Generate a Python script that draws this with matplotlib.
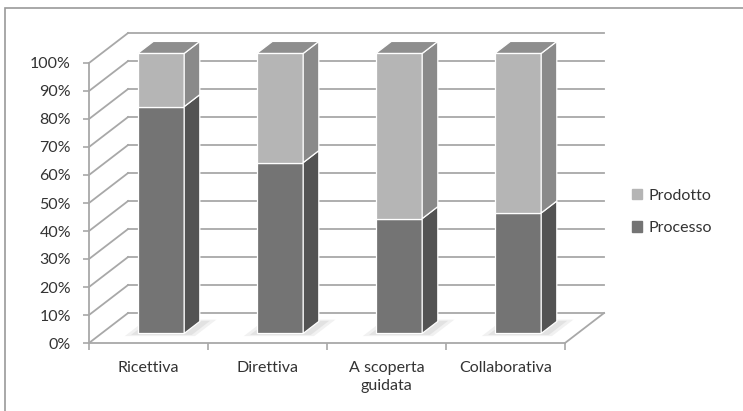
import matplotlib
matplotlib.use("Agg")
import matplotlib.pyplot as plt
from matplotlib.patches import Polygon, Patch, Rectangle
import numpy as np

plt.rcParams['font.family'] = ['Lato', 'DejaVu Sans']

categories = ["Ricettiva", "Direttiva", "A scoperta\nguidata", "Collaborativa"]
processo = [81, 61, 41, 43]
prodotto = [19, 39, 59, 57]
yticks = [0, 10, 20, 30, 40, 50, 60, 70, 80, 90, 100]
ytick_labels = [f"{v}%" for v in yticks]

# colours
c_proc_front, c_proc_side = "#747474", "#535353"
c_prod_front, c_prod_side, c_prod_top = "#b5b5b5", "#8a8a8a", "#8e8e8e"
grid_c = "#a8a8a8"
text_c = "#333333"
FS = 11.5

W, H = 743, 411
fig = plt.figure(figsize=(W / 100, H / 100), dpi=100)
ax = fig.add_axes([89 / W, 68 / H, 476 / W, 280 / H])
n = len(categories)
ax.set_xlim(0, n)
ax.set_ylim(0, 100)

DX, DY = 0.328, 10.7      # depth projection (category units, percent units)
F0, F1 = 0.32, 0.72       # bar front/back depth fraction
BW = 0.39                 # bar width


def P(x, y, z):
    return (x + z * DX, y + z * DY)


# walls gridlines
for v in yticks:
    ax.plot(*zip(P(0, v, 0), P(0, v, 1)), color=grid_c, lw=1.3, clip_on=False, zorder=1)
    ax.plot(*zip(P(0, v, 1), P(n, v, 1)), color=grid_c, lw=1.3, clip_on=False, zorder=1)
# floor right edge
ax.plot(*zip(P(n, 0, 0), P(n, 0, 1)), color=grid_c, lw=1.3, clip_on=False, zorder=1)

# soft shadows
for i in range(n):
    xl = i + 0.5 - BW / 2
    xr = i + 0.5 + BW / 2
    for k, a in [(0.0, 0.35), (0.04, 0.25)]:
        pts = [P(xl - 0.04 - k, 0, F0 - 0.05 - k), P(xr + 0.08 + k, 0, F0 - 0.05 - k),
               P(xr + 0.08 + k, 0, F1 + 0.02 + k), P(xl - 0.04 - k, 0, F1 + 0.02 + k)]
        ax.add_patch(Polygon(pts, closed=True, facecolor="#c8c8c8", alpha=a, edgecolor="none",
                             clip_on=False, zorder=2))

# bars
x_front = np.arange(n) + 0.5 + F0 * DX
ax.bar(x_front, processo, width=BW, bottom=F0 * DY, color=c_proc_front,
       edgecolor="white", linewidth=0.9, clip_on=False, zorder=3)
ax.bar(x_front, prodotto, width=BW, bottom=np.array(processo) + F0 * DY, color=c_prod_front,
       edgecolor="white", linewidth=0.9, clip_on=False, zorder=3)

for i in range(n):
    xr = i + 0.5 + BW / 2
    xl = i + 0.5 - BW / 2
    segs = [(0, processo[i], c_proc_side), (processo[i], processo[i] + prodotto[i], c_prod_side)]
    for b, t, c in segs:
        pts = [P(xr, b, F0), P(xr, b, F1), P(xr, t, F1), P(xr, t, F0)]
        ax.add_patch(Polygon(pts, closed=True, facecolor=c, edgecolor="white", lw=0.9,
                             clip_on=False, zorder=3))
    top = processo[i] + prodotto[i]
    pts = [P(xl, top, F0), P(xr, top, F0), P(xr, top, F1), P(xl, top, F1)]
    ax.add_patch(Polygon(pts, closed=True, facecolor=c_prod_top, edgecolor="white", lw=0.9,
                         clip_on=False, zorder=3))

# axes styling
for s in ["top", "right"]:
    ax.spines[s].set_visible(False)
for s in ["left", "bottom"]:
    ax.spines[s].set_color(grid_c)
    ax.spines[s].set_linewidth(1.3)
ax.set_facecolor("none")
ax.set_yticks(yticks)
ax.set_yticklabels(ytick_labels)
ax.tick_params(axis="y", length=4, width=1.2, color=grid_c, pad=9, labelsize=FS,
               labelcolor=text_c)
ax.set_xticks(np.arange(n + 1))
ax.set_xticklabels([])
ax.set_xticks(np.arange(n) + 0.5, minor=True)
ax.set_xticklabels(categories, minor=True, linespacing=1.35)
ax.tick_params(axis="x", which="major", length=5, width=1.2, color=grid_c)
ax.tick_params(axis="x", which="minor", length=0, pad=13, labelsize=FS, labelcolor=text_c)

# legend
handles = [Patch(color=c_prod_front), Patch(color=c_proc_front)]
fig.legend(handles, ["Prodotto", "Processo"], loc="center left",
           bbox_to_anchor=(618 / W, 1 - 212 / H), frameon=False, fontsize=FS,
           handlelength=0.6, handleheight=0.6, handletextpad=0.4, labelspacing=1.15,
           labelcolor=text_c)

# chart border (partially visible)
fig.add_artist(Rectangle((5 / W, -0.2), 1.2, 1.2 - 8 / H, transform=fig.transFigure,
                         fill=False, edgecolor="#9a9a9a", lw=1.2))

fig.savefig("out.png", dpi=100)
